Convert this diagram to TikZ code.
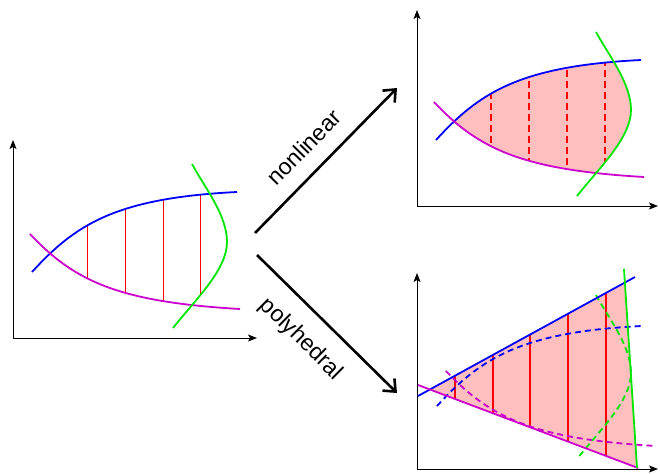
\documentclass[tikz,border=0pt]{standalone}
\usepackage{fontspec}
\setmainfont{Liberation Sans}
\usetikzlibrary{arrows.meta}
\definecolor{cblue}{RGB}{0,0,255}
\definecolor{cmag}{RGB}{204,0,204}
\definecolor{cgreen}{RGB}{0,230,0}
\definecolor{cred}{RGB}{255,0,0}
\definecolor{cpink}{RGB}{255,191,191}
\newcommand\bluecurve{(32,272) .. controls (75,225) and (115,198) .. (237,192)}
\newcommand\magcurve{(30,234) .. controls (75,282) and (120,302) .. (240,309)}
\newcommand\greencurve{(192,164) .. controls (205,188) and (227,215) .. (227,242) .. controls (227,270) and (195,300) .. (173,328)}
\newcommand\regionclip{%
  \clip \bluecurve -- (237,400) -- (32,400) -- cycle;
  \clip \magcurve -- (240,100) -- (30,100) -- cycle;
  \clip \greencurve -- (0,328) -- (0,164) -- cycle;}
\begin{document}
\begin{tikzpicture}[x=1pt,y=-1pt,
  axis/.style={line width=1pt,
    {Stealth[length=9pt,width=7pt,inset=2pt]}-{Stealth[length=9pt,width=7pt,inset=2pt]}},
  curve/.style={line width=1.8pt},
  dcurve/.style={line width=1.8pt, dash pattern=on 6pt off 4pt},
  vline/.style={cred, line width=1pt},
  dvline/.style={cred, line width=1.3pt, dash pattern=on 7pt off 4pt},
  bigarrow/.style={line width=2.6pt, -{Straight Barb[length=10pt,width=17pt]}},
  lbl/.style={font=\fontsize{23}{23}\selectfont, sloped, inner sep=3.33pt}
]
\useasboundingbox (0,0) rectangle (660,473);

% ---------- left plot ----------
\coordinate (Lo) at (13,338);
\coordinate (Ly) at (13,140);
\coordinate (Lx) at (257,338);
\draw[axis] (Ly) -- (Lo) -- (Lx);
\begin{scope}
  \regionclip
  \foreach \x in {87,125,163,200} \draw[vline] (\x,100) -- (\x,400);
\end{scope}
\draw[curve,cblue] \bluecurve;
\draw[curve,cmag] \magcurve;
\draw[curve,cgreen] \greencurve;

% ---------- top right plot ----------
\coordinate (To) at (417,206);
\coordinate (Ty) at (417,10);
\coordinate (Tx) at (658,206);
\draw[axis] (Ty) -- (To) -- (Tx);
\begin{scope}[shift={(404,-132)}]
  \begin{scope}
    \regionclip
    \fill[cpink] (0,100) rectangle (300,400);
    \foreach \x in {87,125,163,201} \draw[dvline] (\x,180) -- (\x,330);
  \end{scope}
  \draw[curve,cblue] \bluecurve;
  \draw[curve,cmag] \magcurve;
  \draw[curve,cgreen] \greencurve;
\end{scope}

% ---------- bottom right plot ----------
\coordinate (Bo) at (417,469);
\coordinate (By) at (417,273);
\coordinate (Bx) at (658,469);
\draw[axis] (By) -- (Bo) -- (Bx);
\coordinate (b1) at (418,396);
\coordinate (b2) at (635,277);
\coordinate (m1) at (418,385);
\coordinate (m2) at (638,468);
\coordinate (g1) at (624,269);
\coordinate (g2) at (637,468);
\coordinate (bm) at (intersection of b1--b2 and m1--m2);
\coordinate (bg) at (intersection of b1--b2 and g1--g2);
\coordinate (mg) at (intersection of m1--m2 and g1--g2);
\fill[cpink] (bm) -- (bg) -- (mg) -- cycle;
\begin{scope}
  \clip (bm) -- (bg) -- (mg) -- cycle;
  \foreach \x in {455,493,530,568,606} \draw[vline,line width=1.3pt] (\x,250) -- (\x,480);
\end{scope}
\begin{scope}[shift={(405,134)}]
  \draw[dcurve,cblue] \bluecurve;
\end{scope}
\begin{scope}[shift={(416,137)}]
  \draw[dcurve,cmag] \magcurve;
\end{scope}
\begin{scope}[shift={(404,131)}]
  \draw[dcurve,cgreen] \greencurve;
\end{scope}
\draw[curve,cblue] (b1) -- (b2);
\draw[curve,cmag] (m1) -- (m2);
\draw[curve,cgreen] (g1) -- (g2);

% ---------- arrows ----------
\coordinate (n1) at (255,233);
\coordinate (n2) at (397,88);
\coordinate (p1) at (257,255);
\coordinate (p2) at (397,393);
\draw[bigarrow] (n1) -- node[lbl, pos=0.47, above=12pt] {nonlinear} (n2);
\draw[bigarrow] (p1) -- node[lbl, pos=0.46, below=13.8pt] {polyhedral} (p2);
\end{tikzpicture}
\end{document}
